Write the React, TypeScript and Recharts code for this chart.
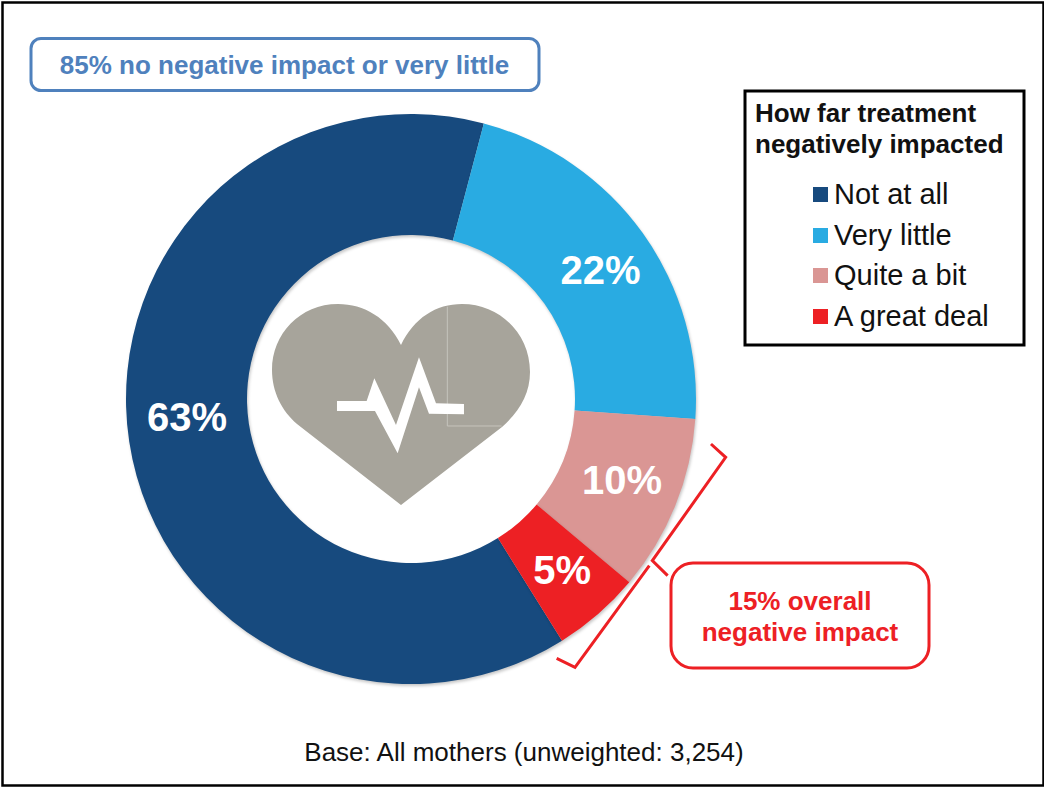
import React from "react";
import { PieChart, Pie, Legend } from "recharts";

const categories = ["Not at all", "Very little", "Quite a bit", "A great deal"];
const shares = [63, 22, 10, 5];
const colours = ["#174A7E", "#29ABE2", "#DA9694", "#ED2024"];
const labelNudges = [[-2, -16], [7, 2], [3, -3], [4, 2]];
const rows = categories.map((name, i) => ({ name, value: shares[i], fill: colours[i] }));

const FONT = "'Liberation Sans', Arial, sans-serif";
const RED = "#ED2024";
const BLUE = "#4F81BD";
const HEART = "M401 345 C388 318,364 304,338 304 C300 304,272 334,272 370 C272 392,282 411,297 424 L401 505 L502 427 C519 412,530 394,530 372 C530 334,500 304,462 304 C436 304,414 318,401 345 Z";
const PULSE = "261,363 350,363 373,295 438,435 507,232 558,370 642,372 642,403 537,401 507,322 443,520 375,393 261,393";

const renderLabel = (p: any) => {
  const r = (p.innerRadius + p.outerRadius) / 2;
  const a = (-p.midAngle * Math.PI) / 180;
  const [dx, dy] = labelNudges[p.index];
  return (
    <text
      x={p.cx + r * Math.cos(a) + dx}
      y={p.cy + r * Math.sin(a) + dy}
      fill="#fff"
      fontFamily={FONT}
      fontWeight={700}
      fontSize={40}
      textAnchor="middle"
      dominantBaseline="central"
    >
      {p.value}%
    </text>
  );
};

const renderLegend = (props: any) => (
  <div>
    {(props.payload || []).map((e: any) => (
      <div key={e.value} style={{ display: "flex", alignItems: "center", height: 40.7, fontFamily: FONT, fontSize: 29, color: "#111" }}>
        <span style={{ width: 15, height: 15, background: e.color, marginRight: 6, display: "inline-block" }} />
        <span>{e.value}</span>
      </div>
    ))}
  </div>
);

export default function App() {
  return (
    <div style={{ position: "absolute", left: 0, top: 0, width: 1044, height: 787, background: "#fff" }}>
      <style>{`.recharts-pie-sector{filter:drop-shadow(1px 2px 1.5px rgba(0,0,0,.22))}`}</style>
      <PieChart width={1044} height={787} margin={{ top: 0, right: 0, bottom: 0, left: 0 }}>
        <Pie
          data={rows}
          dataKey="value"
          nameKey="name"
          cx={411}
          cy={399}
          innerRadius={164}
          outerRadius={285}
          startAngle={-58}
          endAngle={-418}
          stroke="none"
          label={renderLabel}
          labelLine={false}
          isAnimationActive={false}
        />
        <Legend content={renderLegend} itemSorter={null} layout="vertical" wrapperStyle={{ position: "absolute", left: 813, top: 174, width: 205 }} />
      </PieChart>
      <svg width={1044} height={787} style={{ position: "absolute", left: 0, top: 0, pointerEvents: "none" }} fontFamily={FONT}>
        <rect x={2.5} y={2.5} width={1041} height={783} fill="none" stroke="#000" strokeWidth={2.5} />
        <path d={HEART} fill="#A7A49B" />
        <g transform="translate(250 280) scale(0.3333)">
          <polyline points="592,80 592,438 755,438" fill="none" stroke="#C6C4BD" strokeWidth={3} />
          <polygon points={PULSE} fill="#fff" />
        </g>
        <rect x={31} y={38.5} width={508} height={52} rx={10} fill="#fff" stroke={BLUE} strokeWidth={3} />
        <text x={284.5} y={74} textAnchor="middle" fontWeight={700} fontSize={26} fill={BLUE}>85% no negative impact or very little</text>
        <rect x={745} y={91} width={279} height={254} fill="none" stroke="#000" strokeWidth={3} />
        <text x={755} y={122} fontWeight={700} fontSize={26} fill="#111">How far treatment</text>
        <text x={755} y={153} fontWeight={700} fontSize={26} fill="#111">negatively impacted</text>
        <g transform="translate(540 430) scale(0.3333)" fill="none" stroke={RED} strokeWidth={9}>
          <polyline points="513,42 557,82 337,392 383,437" />
          <polyline points="328,407 105,712 50,685" />
        </g>
        <rect x={671} y={563} width={258} height={105} rx={22} fill="#fff" stroke={RED} strokeWidth={3} />
        <text x={800} y={610} textAnchor="middle" fontWeight={700} fontSize={26} fill={RED}>15% overall</text>
        <text x={800} y={641} textAnchor="middle" fontWeight={700} fontSize={26} fill={RED}>negative impact</text>
        <text x={524} y={761} textAnchor="middle" fontSize={26} fill="#111">Base: All mothers (unweighted: 3,254)</text>
      </svg>
    </div>
  );
}
